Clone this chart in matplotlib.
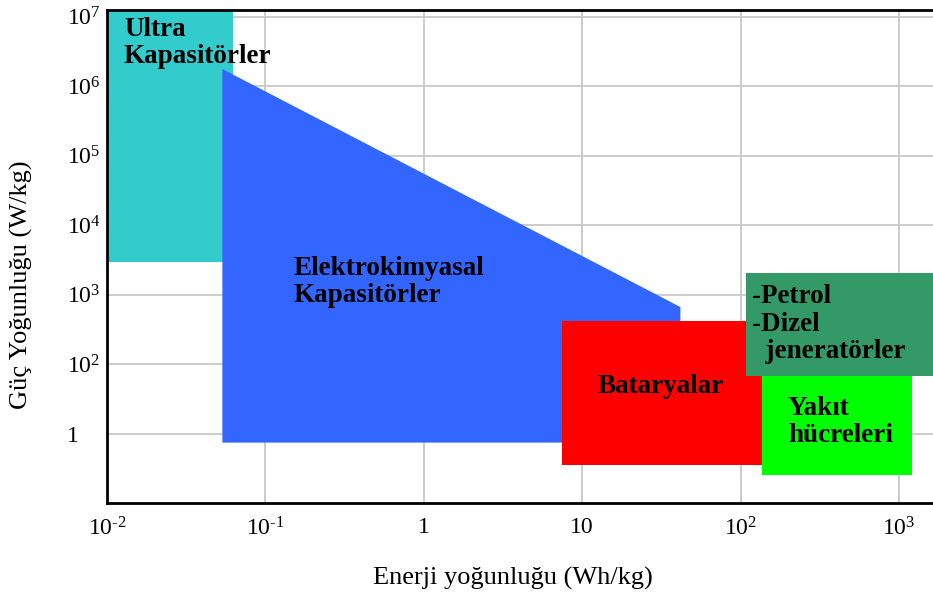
import matplotlib
matplotlib.use("Agg")
import matplotlib.pyplot as plt
from matplotlib.patches import Polygon, Rectangle

plt.rcParams['font.family'] = ['Liberation Serif', 'DejaVu Serif']
plt.rcParams['mathtext.fontset'] = 'custom'
plt.rcParams['mathtext.rm'] = 'Liberation Serif'
plt.rcParams['mathtext.it'] = 'Liberation Serif:italic'
plt.rcParams['mathtext.bf'] = 'Liberation Serif:bold'

# ---- data (Wh/kg on x, W/kg on y, log scales) ----
x_ticks = [1e-2, 1e-1, 1, 10, 1e2, 1e3]
x_tick_labels = [r'$\mathregular{10^{\text{-}2}}$', r'$\mathregular{10^{\text{-}1}}$', '1', '10',
                 r'$\mathregular{10^{2}}$', r'$\mathregular{10^{3}}$']
y_ticks = [1e1, 1e2, 1e3, 1e4, 1e5, 1e6, 1e7]
y_tick_labels = ['1', r'$\mathregular{10^{2}}$', r'$\mathregular{10^{3}}$', r'$\mathregular{10^{4}}$',
                 r'$\mathregular{10^{5}}$', r'$\mathregular{10^{6}}$', r'$\mathregular{10^{7}}$']

ultra_x = [0.01, 0.062]
ultra_y = [2940, 1.3e7]
electro_x = [0.0535, 0.0535, 41.7, 41.7]
electro_y = [7.4, 1.76e6, 661, 7.4]
battery_x = [7.46, 136]
battery_y = [3.47, 416]
fuelcell_x = [136, 1210]
fuelcell_y = [2.49, 90]
engine_x = [108, 2000]
engine_y = [67, 2040]

labels = {
    'ultra': 'Ultra\nKapasitörler',
    'electro': 'Elektrokimyasal\nKapasitörler',
    'battery': 'Bataryalar',
    'engine': '-Petrol\n-Dizel\n  jeneratörler',
    'fuelcell': 'Yakıt\nhücreleri',
}

fig = plt.figure(figsize=(9.33, 5.94), dpi=100)
ax = fig.add_axes([107/933, 91/594, 1 - 107/933, 493/594])
ax.set_xscale('log')
ax.set_yscale('log')
ax.set_xlim(1e-2, 10**3.215)
ax.set_ylim(1.0, 10**7.095)
ax.set_xticks(x_ticks)
ax.set_xticklabels(x_tick_labels)
ax.set_yticks(y_ticks)
ax.set_yticklabels(y_tick_labels)
ax.minorticks_off()
ax.tick_params(axis='both', length=0, labelsize=17)
ax.tick_params(axis='x', pad=10)
ax.tick_params(axis='y', pad=29)
for lab in ax.get_yticklabels():
    lab.set_horizontalalignment('left')
ax.grid(True, color='#c8c8c8', lw=1.3, zorder=0)
ax.set_axisbelow(True)
for side in ['left', 'bottom', 'top']:
    ax.spines[side].set_linewidth(2)
    ax.spines[side].set_color('black')
ax.spines['right'].set_visible(False)


def rect(xr, yr, color):
    ax.add_patch(Rectangle((xr[0], yr[0]), xr[1] - xr[0], yr[1] - yr[0],
                           facecolor=color, edgecolor='none', zorder=2))


rect(ultra_x, ultra_y, '#33cccc')
ax.add_patch(Polygon(list(zip(electro_x, electro_y)), closed=True,
                     facecolor='#3366ff', edgecolor='none', zorder=2))
rect(fuelcell_x, fuelcell_y, '#00ff00')
rect(battery_x, battery_y, '#ff0000')
rect(engine_x, engine_y, '#339966')


def ftext(px, py, s):
    # last-line baseline position in pixels from top-left of figure
    fig.text(px / 933, 1 - py / 594, s, fontsize=19.5, fontweight='bold',
             ha='left', va='baseline', linespacing=1.13, zorder=5)


ftext(124, 63, labels['ultra'])
ftext(293, 302, labels['electro'])
ftext(598, 393, labels['battery'])
ftext(752, 358, labels['engine'])
ftext(788, 442, labels['fuelcell'])

fig.text(513 / 933, 1 - 578 / 594, 'Enerji yoğunluğu (Wh/kg)', fontsize=19,
         ha='center', va='center')
fig.text(21 / 933, 1 - 285 / 594, 'Güç Yoğunluğu (W/kg)', fontsize=19,
         ha='center', va='center', rotation=90)

fig.savefig('out.png', dpi=100)
